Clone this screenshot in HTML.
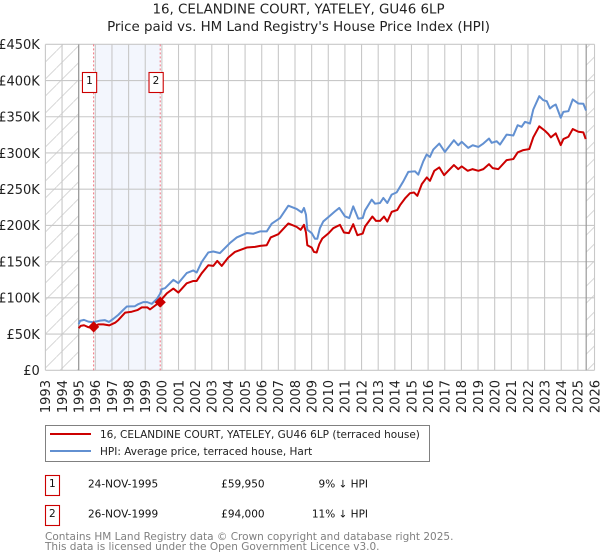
<!DOCTYPE html>
<html>
<head>
<meta charset="utf-8">
<style>
html,body{margin:0;padding:0;background:#fff;}
svg{display:block;font-family:"DejaVu Sans","Liberation Sans",sans-serif;}
</style>
</head>
<body>
<svg id="chart" width="600" height="560" viewBox="0 0 600 560" xmlns="http://www.w3.org/2000/svg">
<defs>
<pattern id="hatch" patternUnits="userSpaceOnUse" width="17" height="17" patternTransform="translate(5.4,0)">
<path d="M-1,18 L18,-1" stroke="#cfcfcf" stroke-width="0.8" fill="none"/>
</pattern>
</defs>
<text x="298.5" y="13.5" font-size="13.4" text-anchor="middle" fill="#222">16, CELANDINE COURT, YATELEY, GU46 6LP</text>
<text x="298.5" y="31" font-size="13.4" text-anchor="middle" fill="#222">Price paid vs. HM Land Registry's House Price Index (HPI)</text>
<g id="plot"></g>
<g>
<rect x="45.5" y="425.5" width="384" height="36" fill="#fff" stroke="#808080" stroke-width="1"/>
<line x1="50" x2="91" y1="434" y2="434" stroke="#cc0000" stroke-width="2"/>
<text x="100" y="438" font-size="10.5" fill="#222">16, CELANDINE COURT, YATELEY, GU46 6LP (terraced house)</text>
<line x1="50" x2="91" y1="451" y2="451" stroke="#6290d1" stroke-width="2"/>
<text x="100" y="455" font-size="10.5" fill="#222">HPI: Average price, terraced house, Hart</text>
</g>
<g font-size="10.5" fill="#111">
<rect x="45.5" y="475.5" width="14" height="20" fill="#fff" stroke="#cc0000" stroke-width="1.1"/>
<text x="52.3" y="487" text-anchor="middle">1</text>
<text x="88" y="487.5">24-NOV-1995</text>
<text x="264.6" y="487.5" text-anchor="end">£59,950</text>
<text x="368" y="487.5" text-anchor="end">9% ↓ HPI</text>
<rect x="45.5" y="505.5" width="14" height="20" fill="#fff" stroke="#cc0000" stroke-width="1.1"/>
<text x="52.3" y="517" text-anchor="middle">2</text>
<text x="88" y="517.5">26-NOV-1999</text>
<text x="264.6" y="517.5" text-anchor="end">£94,000</text>
<text x="368" y="517.5" text-anchor="end">11% ↓ HPI</text>
</g>
<text x="45" y="540" font-size="10.5" fill="#808080">Contains HM Land Registry data © Crown copyright and database right 2025.</text>
<text x="45" y="550" font-size="10.5" fill="#808080">This data is licensed under the Open Government Licence v3.0.</text>
</svg>
<script>
var yearTicks = [1993,1994,1995,1996,1997,1998,1999,2000,2001,2002,2003,2004,2005,2006,2007,2008,2009,2010,2011,2012,2013,2014,2015,2016,2017,2018,2019,2020,2021,2022,2023,2024,2025,2026];
var valueTicks = [0,50,100,150,200,250,300,350,400,450];
var valueTickLabels = ["£0","£50K","£100K","£150K","£200K","£250K","£300K","£350K","£400K","£450K"];

var hpiYears = [1995.00,1995.08,1995.32,1995.58,1995.88,1996.28,1996.58,1996.82,1997.08,1997.38,1997.68,1997.89,1998.38,1998.58,1998.88,1999.12,1999.39,1999.69,1999.89,1999.99,2000.19,2000.49,2000.69,2000.99,2001.49,2001.89,2002.09,2002.39,2002.79,2003.09,2003.49,2004.09,2004.50,2005.10,2005.49,2005.90,2006.30,2006.60,2007.10,2007.60,2008.10,2008.40,2008.54,2008.66,2008.74,2009.00,2009.20,2009.34,2009.50,2009.70,2010.10,2010.40,2010.66,2011.00,2011.26,2011.50,2011.80,2012.07,2012.21,2012.61,2012.81,2013.11,2013.31,2013.55,2013.81,2014.11,2014.51,2014.81,2015.21,2015.41,2015.71,2015.91,2016.11,2016.31,2016.67,2017.01,2017.27,2017.55,2017.81,2018.02,2018.41,2018.68,2019.02,2019.32,2019.66,2019.82,2020.12,2020.32,2020.72,2021.12,2021.38,2021.62,2021.82,2022.12,2022.32,2022.68,2022.92,2023.13,2023.32,2023.49,2023.67,2023.97,2024.13,2024.43,2024.69,2025.03,2025.33,2025.49];
var hpiValues = [63.6,68.2,69.6,67.2,66.4,68.6,69.2,66.8,71,76.5,83.4,88,88.5,91.3,94.1,94.1,91.7,98.2,105.5,112,113.4,120.3,124.9,120.3,134.2,137.8,135,149.4,162.7,164,161.8,175.7,183.4,189.5,188.5,191.7,191.7,202.4,210.2,227.2,222.7,218,224.1,214.8,194.1,189.5,181.6,181.6,196.4,205.5,213.4,219.4,224.1,212.5,210.2,226.3,209.3,210.2,220.7,235.6,230,231,237.9,231,242.5,245.6,260.9,273.9,274.7,270.1,288.5,297.8,294.6,304.7,313,301.5,309.3,317.6,310.7,315.4,307.1,310.7,308.4,313,319.9,314,316.2,311.6,325.4,324.1,338.3,336.1,343,340.7,360,378.4,372.9,371.5,361.4,364.6,366.9,348.6,356.8,357.7,373.9,368.3,367.9,358.6];

var priceYears = [1995.00,1995.12,1995.32,1995.58,1995.82,1996.18,1996.48,1996.84,1997.19,1997.38,1997.79,1998.19,1998.53,1998.79,1999.12,1999.29,1999.69,1999.89,2000.30,2000.69,2000.99,2001.49,2001.89,2002.09,2002.39,2002.79,2003.09,2003.33,2003.60,2003.99,2004.39,2005.10,2005.60,2005.90,2006.30,2006.54,2007.00,2007.60,2008.10,2008.34,2008.54,2008.66,2008.74,2009.00,2009.14,2009.30,2009.46,2009.64,2010.00,2010.30,2010.70,2010.94,2011.24,2011.50,2011.75,2012.07,2012.21,2012.65,2012.87,2013.11,2013.35,2013.55,2013.81,2014.15,2014.31,2014.61,2014.91,2015.15,2015.35,2015.62,2015.92,2016.11,2016.37,2016.67,2016.96,2017.21,2017.55,2017.81,2018.02,2018.38,2018.66,2019.02,2019.32,2019.66,2019.88,2020.22,2020.72,2021.12,2021.38,2021.72,2022.08,2022.32,2022.68,2023.02,2023.22,2023.38,2023.67,2023.97,2024.13,2024.43,2024.69,2025.03,2025.33,2025.47];
var priceValues = [58.1,61.3,62.2,59.5,58.1,63.4,63.4,62,65.7,69.3,79.6,80.9,83.1,86.9,86.9,84.1,91,95.6,106.3,112.8,107.3,120.1,123.3,123.3,133.9,145,144.1,151,144.1,155.7,163.4,169.5,170.4,171.8,172.7,183.4,187.9,202.7,198,193.9,200.8,190.3,172.7,169.5,163.4,162.6,174.1,181.9,188.8,196.2,200.8,190.3,189.3,201.7,186.5,188.8,198.5,212.3,206.2,206.2,212.3,205.4,218.7,221.4,227.9,237.2,244.5,245.5,240.8,257,266.2,261.5,275.4,280.1,269.4,275.4,283.3,277.7,281.5,275.4,277.7,275.4,277.7,284.6,279.1,277.7,290.2,291.6,300.8,304,305.4,321.6,336.8,330.7,326.2,321.6,327.1,310.9,319.2,322.4,333,329.3,328.4,319.2];

var saleYears = [1995.9,1999.9];
var saleValues = [59.95,94];
var saleLabels = ["1","2"];

var shadeStartYear = 1996;
var dataStartYear = 1995;
var dataEndYear = 2025.5;

var NS = "http://www.w3.org/2000/svg";
var plot = document.getElementById("plot");
var L = 45.4, PX = 16.64, Y0 = 370.3, PY = 0.7244;
function xScale(year){ return L + (year - yearTicks[0]) * PX; }
function yScale(v){ return Y0 - v * PY; }
function make(tag, attrs, parent){
  var el = document.createElementNS(NS, tag);
  for (var k in attrs) el.setAttribute(k, attrs[k]);
  (parent || plot).appendChild(el);
  return el;
}
var xMax = xScale(yearTicks[yearTicks.length-1]);
var yTop = yScale(valueTicks[valueTicks.length-1]);

var shade = make("rect", {x:xScale(shadeStartYear), y:yTop, width:xScale(saleYears[1])-xScale(shadeStartYear), height:Y0-yTop, fill:"#f3f6fd"});



var hatchL = make("rect", {x:L, y:yTop, width:xScale(dataStartYear)-L, height:Y0-yTop, fill:"url(#hatch)"});


var hatchR = make("rect", {x:xScale(dataEndYear), y:yTop, width:xMax-xScale(dataEndYear), height:Y0-yTop, fill:"url(#hatch)"});



yearTicks.forEach(function(yr){
  var g = make("line", {x1:xScale(yr), x2:xScale(yr), y1:yTop, y2:Y0, stroke:"#c8c8c8", "stroke-width":1.1});
  
  
  var tx = xScale(yr) + 4.8;
  var t = make("text", {x:tx, y:380, "font-size":13, fill:"#222", "text-anchor":"end", transform:"rotate(-90 "+tx+" 380)"});
  t.textContent = yr;
  
  
});
valueTicks.forEach(function(v,i){
  var g = make("line", {x1:L, x2:xMax, y1:yScale(v), y2:yScale(v), stroke:"#c8c8c8", "stroke-width":1.1});
  
  
  var t = make("text", {x:39.8, y:yScale(v)+4.8, "font-size":13, fill:"#222", "text-anchor":"end"});
  t.textContent = valueTickLabels[i];
  
  
});

[dataStartYear, dataEndYear].forEach(function(yr){
  var b = make("line", {x1:xScale(yr), x2:xScale(yr), y1:yTop, y2:Y0, stroke:"#999", "stroke-width":1.2});
  
  
});

saleYears.forEach(function(yr){
  var d = make("line", {x1:xScale(yr), x2:xScale(yr), y1:yTop, y2:Y0, stroke:"#f0717f", "stroke-width":1, "stroke-dasharray":"2 2"});
  
  
});

function linePoints(xs, ys){
  return xs.map(function(x,i){ return xScale(x).toFixed(2)+","+yScale(ys[i]).toFixed(2); }).join(" ");
}
var hpiLine = make("polyline", {points:linePoints(hpiYears,hpiValues), fill:"none", stroke:"#6290d1", "stroke-width":2, "stroke-linejoin":"round"});


var priceLine = make("polyline", {points:linePoints(priceYears,priceValues), fill:"none", stroke:"#cc0000", "stroke-width":2, "stroke-linejoin":"round"});



saleYears.forEach(function(yr,i){
  var cx = xScale(yr), cy = yScale(saleValues[i]), r = 5.6;
  var m = make("polygon", {points:[cx,cy-r,cx+r,cy,cx,cy+r,cx-r,cy].join(" "), fill:"#cc0000"});
  
  
  var bx = cx - 11.2;
  var box = make("rect", {x:bx, y:72.5, width:14.2, height:20, fill:"#fff", stroke:"#cc0000", "stroke-width":1.1});
  
  
  var t = make("text", {x:bx+7, y:84, "font-size":10.5, fill:"#111", "text-anchor":"middle"});
  t.textContent = saleLabels[i];
  
  
});
</script>
</body>
</html>
